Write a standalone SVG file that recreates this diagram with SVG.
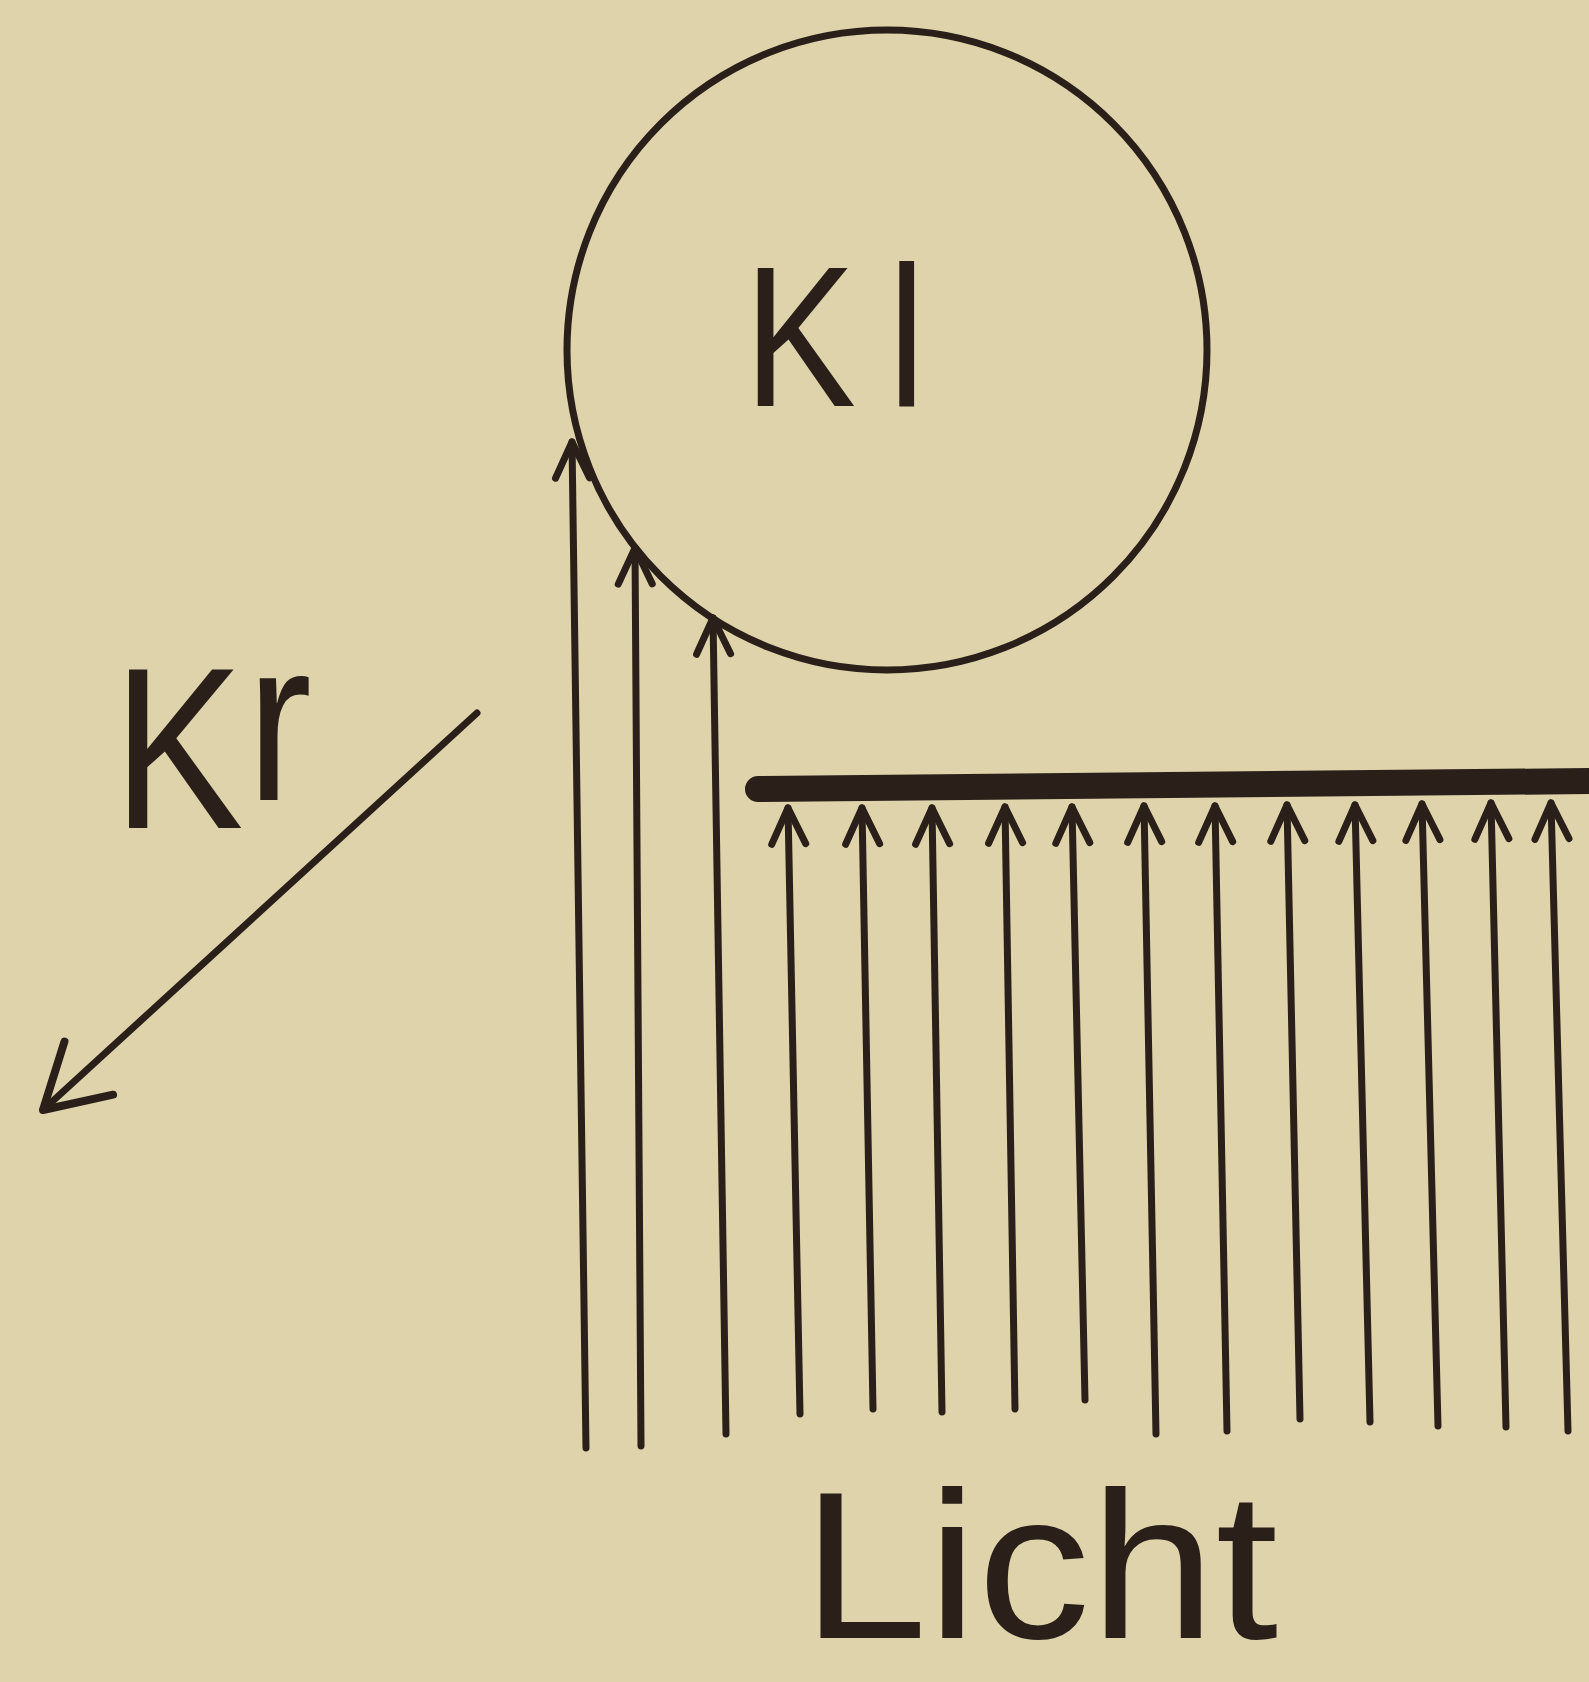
<svg xmlns="http://www.w3.org/2000/svg" width="1589" height="1682" viewBox="0 0 1589 1682">
  <style>
    .ink { stroke: #2a2019; fill: none; stroke-linecap: round; }
    .ray { stroke-width: 7; }
    .lbl { font-family: "Liberation Sans", "DejaVu Sans", sans-serif; fill: #2a2019; }
  </style>
  <defs>
    <marker id="ah" markerUnits="userSpaceOnUse" markerWidth="80" markerHeight="80" viewBox="-60 -40 80 80" refX="0" refY="0" orient="auto">
      <path d="M-36,-17 L0,0 L-36,17" fill="none" stroke="#2a2019" stroke-width="7" stroke-linecap="round" stroke-linejoin="round"/>
    </marker>
    <marker id="ahl" markerUnits="userSpaceOnUse" markerWidth="120" markerHeight="120" viewBox="-90 -60 120 120" refX="0" refY="0" orient="auto">
      <path d="M-62,-36 L0,0 L-62,36" fill="none" stroke="#2a2019" stroke-width="8" stroke-linecap="round" stroke-linejoin="round"/>
    </marker>
  </defs>
  <rect x="0" y="0" width="1589" height="1682" fill="#ded3ab"/>

  <g id="node-kl">
    <circle cx="887" cy="350" r="320" class="ink" stroke-width="7"/>
    <text class="lbl" font-size="200" transform="translate(744,406) scale(0.84,1)">K<tspan dx="38">l</tspan></text>
  </g>

  <g id="node-plate">
    <path d="M758,789 L1589,781" class="ink" stroke-width="26"/>
  </g>

  <g id="label-kr">
    <text class="lbl" font-size="230" transform="translate(113,828) scale(0.85,1)">K<tspan dx="4" dy="-28">r</tspan></text>
  </g>

  <g id="label-licht">
    <text class="lbl" font-size="210" x="802" y="1638" textLength="476" lengthAdjust="spacingAndGlyphs">Licht</text>
  </g>

  <g id="connectors">
    <line x1="477" y1="713" x2="43" y2="1110" class="ink" stroke-width="7" marker-end="url(#ahl)"/>
    <g class="ink ray">
      <line x1="586" y1="1448" x2="572" y2="442" marker-end="url(#ah)"/>
      <line x1="641" y1="1446" x2="635" y2="548" marker-end="url(#ah)"/>
      <line x1="726" y1="1434" x2="713" y2="618" marker-end="url(#ah)"/>
      <line x1="800" y1="1414" x2="788" y2="808" marker-end="url(#ah)"/>
      <line x1="873" y1="1409" x2="862" y2="808" marker-end="url(#ah)"/>
      <line x1="942" y1="1412" x2="932" y2="808" marker-end="url(#ah)"/>
      <line x1="1015" y1="1409" x2="1005" y2="807" marker-end="url(#ah)"/>
      <line x1="1085" y1="1400" x2="1072" y2="807" marker-end="url(#ah)"/>
      <line x1="1156" y1="1434" x2="1144" y2="806" marker-end="url(#ah)"/>
      <line x1="1227" y1="1431" x2="1215" y2="806" marker-end="url(#ah)"/>
      <line x1="1300" y1="1419" x2="1287" y2="805" marker-end="url(#ah)"/>
      <line x1="1370" y1="1422" x2="1355" y2="805" marker-end="url(#ah)"/>
      <line x1="1438" y1="1426" x2="1422" y2="804" marker-end="url(#ah)"/>
      <line x1="1506" y1="1427" x2="1491" y2="803" marker-end="url(#ah)"/>
      <line x1="1568" y1="1431" x2="1551" y2="803" marker-end="url(#ah)"/>
    </g>
  </g>
</svg>
